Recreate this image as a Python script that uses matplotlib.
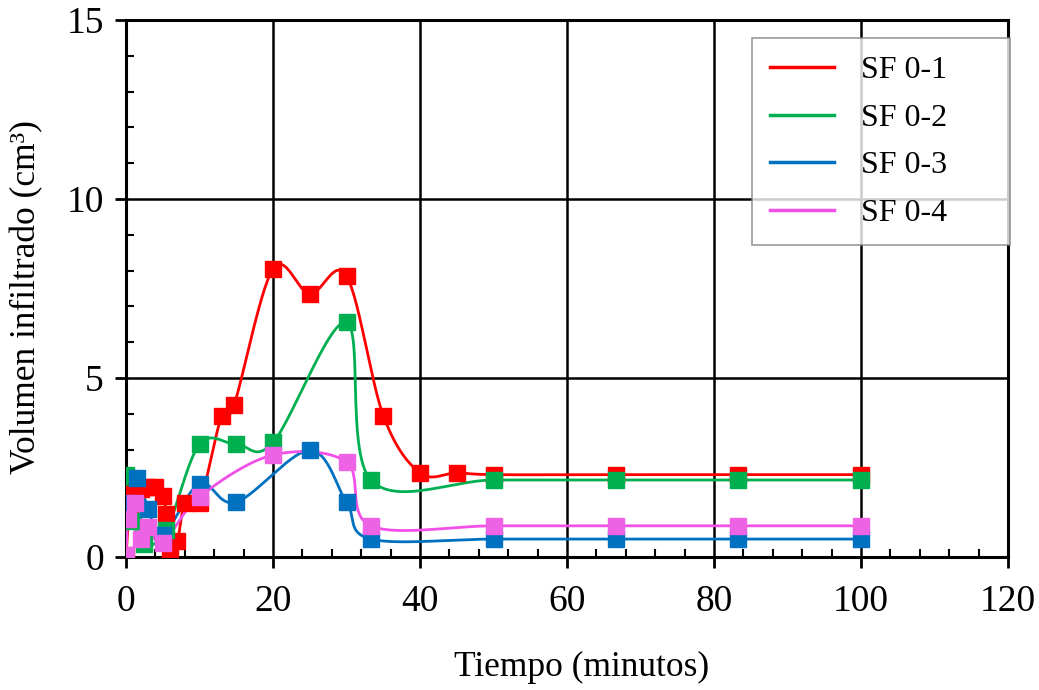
import numpy as np
import matplotlib.pyplot as plt
from matplotlib.ticker import MultipleLocator

plt.rcParams['font.family'] = ['Liberation Serif', 'DejaVu Serif']

# Values
x_sf1 = [0, 0.5, 1, 2, 3, 4, 5, 5.5, 6, 7, 8, 10, 13, 14.7, 20, 25, 30, 35, 40, 45, 50, 66.7, 83.3, 100]
y_sf1 = [0.05, 1.4, 1.75, 1.9, 1.95, 1.95, 1.7, 1.2, 0.15, 0.45, 1.5, 1.5, 3.95, 4.25, 8.05, 7.35, 7.85,
         3.95, 2.35, 2.35, 2.3, 2.3, 2.3, 2.3]

x_sf2 = [0, 1, 2.5, 5.5, 10, 15, 20, 30, 33.3, 50, 66.7, 83.3, 100]
y_sf2 = [2.3, 1.0, 0.35, 0.75, 3.15, 3.15, 3.2, 6.55, 2.15, 2.15, 2.15, 2.15, 2.15]

x_sf3 = [0, 1.5, 3, 5, 10, 15, 25, 30, 33.3, 50, 66.7, 83.3, 100]
y_sf3 = [1.5, 2.2, 1.35, 0.6, 2.05, 1.53, 2.98, 1.53, 0.5, 0.5, 0.5, 0.5, 0.5]

x_sf4 = [0, 0.3, 1.2, 2, 3, 5, 10, 20, 30, 33.3, 50, 66.7, 83.3, 100]
y_sf4 = [0.05, 1.05, 1.5, 0.5, 0.85, 0.4, 1.68, 2.85, 2.65, 0.87, 0.87, 0.87, 0.87, 0.87]

labels = ['SF 0-1', 'SF 0-2', 'SF 0-3', 'SF 0-4']
line_colors = ['#FF0000', '#00B050', '#0070C0', '#F050E8']
marker_colors = ['#FF0000', '#00B050', '#0070C0', '#EE62E6']


def smooth(xs, ys, sx=120.0, sy=15.0 * 882 / 537, n=30):
    # Catmull-Rom curve through the points (like the smoothed lines of a spreadsheet)
    p = np.column_stack([np.array(xs) / sx, np.array(ys) / sy])
    p = np.vstack([p[0], p, p[-1]])
    out = []
    t = np.linspace(0, 1, n)[:, None]
    for i in range(1, len(p) - 2):
        p0, p1, p2, p3 = p[i - 1], p[i], p[i + 1], p[i + 2]
        c1 = p1 + (p2 - p0) / 6
        c2 = p2 - (p3 - p1) / 6
        seg = ((1 - t) ** 3 * p1 + 3 * (1 - t) ** 2 * t * c1 +
               3 * (1 - t) * t ** 2 * c2 + t ** 3 * p2)
        out.append(seg)
    out = np.vstack(out)
    return out[:, 0] * sx, out[:, 1] * sy


fig = plt.figure(figsize=(10.39, 6.9), dpi=100)
ax = fig.add_axes([0.1213, 0.1928, 0.8489, 0.7782])

series = [(x_sf1, y_sf1), (x_sf2, y_sf2), (x_sf3, y_sf3), (x_sf4, y_sf4)]

# lines first, then markers on top, in the same order as the original
for (xs, ys), lab, lc, mc in zip(series, labels, line_colors, marker_colors):
    sx, sy = smooth(xs, ys)
    ax.plot(sx, sy, color=lc, lw=2, label=lab, zorder=3)
    ax.plot(xs, ys, ls='none', marker='s', ms=12, color=mc, mec=mc, zorder=4)

ax.set_xlim(0, 120)
ax.set_ylim(0, 15)
ax.xaxis.set_major_locator(MultipleLocator(20))
ax.xaxis.set_minor_locator(MultipleLocator(4))
ax.yaxis.set_major_locator(MultipleLocator(5))
ax.yaxis.set_minor_locator(MultipleLocator(1))
ax.grid(True, which='major', color='black', lw=1.8)
ax.set_axisbelow(True)

ax.tick_params(which='major', direction='out', length=8, width=2, labelsize=27)
ax.tick_params(axis='x', which='major', pad=12)
ax.tick_params(axis='y', which='major', pad=8)
ax.tick_params(which='minor', direction='in', length=6, width=1.5)
for s in ax.spines.values():
    s.set_linewidth(2.2)

ax.set_xlabel('Tiempo (minutos)', fontsize=25.5)
ax.set_ylabel('Volumen infiltrado (cm³)', fontsize=25.5)
ax.xaxis.set_label_coords(0.516, -0.175)
ax.yaxis.set_label_coords(-0.094, 0.484)

leg = ax.legend(loc='upper left', bbox_to_anchor=(0.7098, 0.594, 0.2925, 0.372), mode='expand',
                fontsize=23, frameon=True, fancybox=False, edgecolor='#808080',
                handlelength=2.0, handletextpad=0.87, labelspacing=0.57, borderpad=0.55,
                borderaxespad=0)
leg.get_frame().set_linewidth(1.2)
for ln in leg.get_lines():
    ln.set_linewidth(2.5)

fig.savefig('out.png', dpi=100)
